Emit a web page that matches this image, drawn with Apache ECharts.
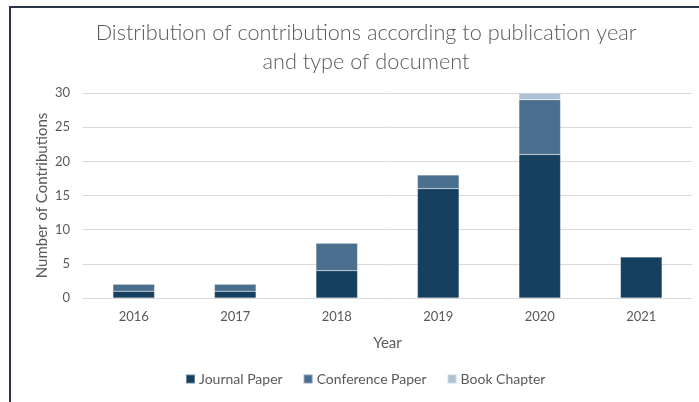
<!DOCTYPE html>
<html><head><meta charset="utf-8">
<script src="https://cdn.jsdelivr.net/npm/echarts@6/dist/echarts.min.js"></script>
<style>
html,body{margin:0;padding:0;background:#fff;}
#frame{position:absolute;left:9px;top:6px;width:700px;height:400px;border-left:2px solid #2b3445;border-top:2px solid #2b3445;box-sizing:border-box;}
#c{position:absolute;left:0;top:0;width:699px;height:402px;}
</style></head>
<body>
<div id="frame"></div>
<div id="c"></div>
<script>
const categories = ['2016','2017','2018','2019','2020','2021'];
const journalPaper = [1, 1, 4, 16, 21, 6];
const conferencePaper = [1, 1, 4, 2, 8, 0];
const bookChapter = [0, 0, 0, 0, 1, 0];
const yTicks = [0, 5, 10, 15, 20, 25, 30];

const font = 'Lato, "Open Sans", sans-serif';
const txt = '#595959';
const chart = echarts.init(document.getElementById('c'), null, {renderer:'canvas'});
function s(name, data, color){
  return {name, type:'bar', stack:'total', data: data.map(v => v === 0 ? null : v), barWidth:'41%',
    itemStyle:{color, borderColor:'rgba(255,255,255,0.35)', borderWidth:0.5}};
}
chart.setOption({
  animation:false,
  title:{text:'Distribution of contributions according to publication year\nand type of document', left:361, textAlign:'center', top:14,
    textStyle:{fontFamily:font, fontSize:21.7, fontWeight:300, color:txt, lineHeight:29}},
  grid:{left:83, right:7, top:93, bottom:104},
  legend:{bottom:11, left:180, itemWidth:9, itemHeight:9, itemGap:20, icon:'rect',
    textStyle:{fontFamily:font, fontSize:14, color:txt, padding:[0,0,0,-1]}},
  xAxis:{type:'category', data:categories, name:'Year', nameLocation:'middle', nameGap:38,
    nameTextStyle:{fontFamily:font, fontSize:15, color:txt},
    axisLine:{show:true, lineStyle:{color:'#d9d9d9'}}, axisTick:{show:false},
    axisLabel:{fontFamily:font, fontSize:13, color:txt, margin:12}},
  yAxis:{type:'value', min:yTicks[0], max:yTicks[yTicks.length-1], interval:5, name:'Number of Contributions', nameLocation:'middle', nameGap:33,
    nameMoveOverlap:false,
    nameTextStyle:{fontFamily:font, fontSize:15, color:txt},
    axisLine:{show:false}, axisTick:{show:false},
    splitLine:{lineStyle:{color:'#d9d9d9', width:1}},
    axisLabel:{fontFamily:font, fontSize:13, color:txt, margin:13}},
  series:[
    s('Journal Paper', journalPaper, '#16405f'),
    s('Conference Paper', conferencePaper, '#4a6f8e'),
    s('Book Chapter', bookChapter, '#adc3d5')
  ]
});
</script>
</body></html>
